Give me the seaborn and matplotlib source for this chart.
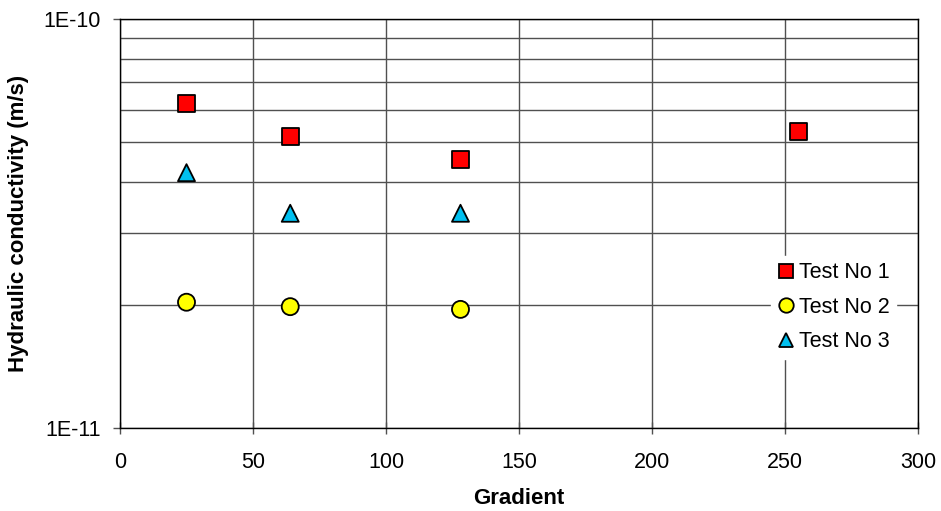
import numpy as np
import pandas as pd
import matplotlib
matplotlib.use("Agg")
import matplotlib.pyplot as plt
import seaborn as sns
from matplotlib.ticker import FixedLocator, FixedFormatter, NullFormatter

# Data
gradient_1 = [25, 64, 128, 255]
k_test1 = [6.2e-11, 5.15e-11, 4.53e-11, 5.3e-11]
gradient_2 = [25, 64, 128]
k_test2 = [2.03e-11, 1.98e-11, 1.95e-11]
gradient_3 = [25, 64, 128]
k_test3 = [4.21e-11, 3.35e-11, 3.35e-11]
series_names = ["Test No 1", "Test No 2", "Test No 3"]

df = pd.concat([
    pd.DataFrame({"Gradient": gradient_1, "K": k_test1, "Series": series_names[0]}),
    pd.DataFrame({"Gradient": gradient_2, "K": k_test2, "Series": series_names[1]}),
    pd.DataFrame({"Gradient": gradient_3, "K": k_test3, "Series": series_names[2]}),
], ignore_index=True)

sns.set_theme(style="white")
plt.rcParams['font.family'] = ['Liberation Sans', 'DejaVu Sans']
plt.rcParams['text.color'] = 'black'
plt.rcParams['axes.labelcolor'] = 'black'
plt.rcParams['xtick.color'] = 'black'
plt.rcParams['ytick.color'] = 'black'

fig = plt.figure(figsize=(9.41, 5.11), dpi=100)
ax = fig.add_axes([120/941, 1 - 428/511, (918-120)/941, (428-19)/511])

palette = {"Test No 1": "#ff0000", "Test No 2": "#ffff00", "Test No 3": "#00c0f0"}
markers = {"Test No 1": "s", "Test No 2": "o", "Test No 3": "^"}

sns.scatterplot(data=df, x="Gradient", y="K", hue="Series", style="Series",
                palette=palette, markers=markers, s=150, edgecolor="black",
                linewidth=1.3, ax=ax, zorder=3, legend=True)

ax.set_yscale("log")
ax.set_ylim(1e-11, 1e-10)
ax.set_xlim(0, 300)
ax.xaxis.set_major_locator(FixedLocator([0, 50, 100, 150, 200, 250, 300]))
ax.yaxis.set_major_locator(FixedLocator([1e-11, 1e-10]))
ax.yaxis.set_major_formatter(FixedFormatter(["1E-11", "1E-10"]))
ax.yaxis.set_minor_locator(FixedLocator([i * 1e-11 for i in range(2, 10)]))
ax.yaxis.set_minor_formatter(NullFormatter())

ax.grid(True, which="major", axis="x", color="#505050", linewidth=1.0)
ax.grid(True, which="minor", axis="y", color="#505050", linewidth=1.0)
ax.grid(True, which="major", axis="y", color="#505050", linewidth=1.0)
ax.set_axisbelow(True)

for sp in ax.spines.values():
    sp.set_visible(True)
    sp.set_color("black")
    sp.set_linewidth(1.0)

ax.tick_params(axis="y", which="major", direction="out", length=5, width=1, color="#505050",
               labelcolor="black", labelsize=15.5, left=True, pad=9)
ax.tick_params(axis="y", which="minor", length=0)
ax.tick_params(axis="x", which="major", direction="inout", length=8, width=1, color="#505050",
               labelcolor="black", labelsize=15.5, bottom=True, pad=13)

ax.set_xlabel("Gradient", fontsize=16, fontweight="bold", labelpad=11, color="black")
ax.set_ylabel("Hydraulic conductivity (m/s)", fontsize=16, fontweight="bold", labelpad=10,
              color="black")

leg = ax.legend(loc="center left", bbox_to_anchor=(0.802, 0.295), frameon=True,
                fontsize=15.5, handletextpad=0.2, labelspacing=0.62, borderpad=0.3,
                handlelength=0.8, markerscale=0.85)
for t in leg.get_texts():
    t.set_color("black")
leg.get_frame().set_facecolor("white")
leg.get_frame().set_edgecolor("white")
leg.get_frame().set_alpha(1.0)
leg.get_frame().set_boxstyle("square", pad=0)

fig.savefig("out.png", dpi=100, facecolor="white")
